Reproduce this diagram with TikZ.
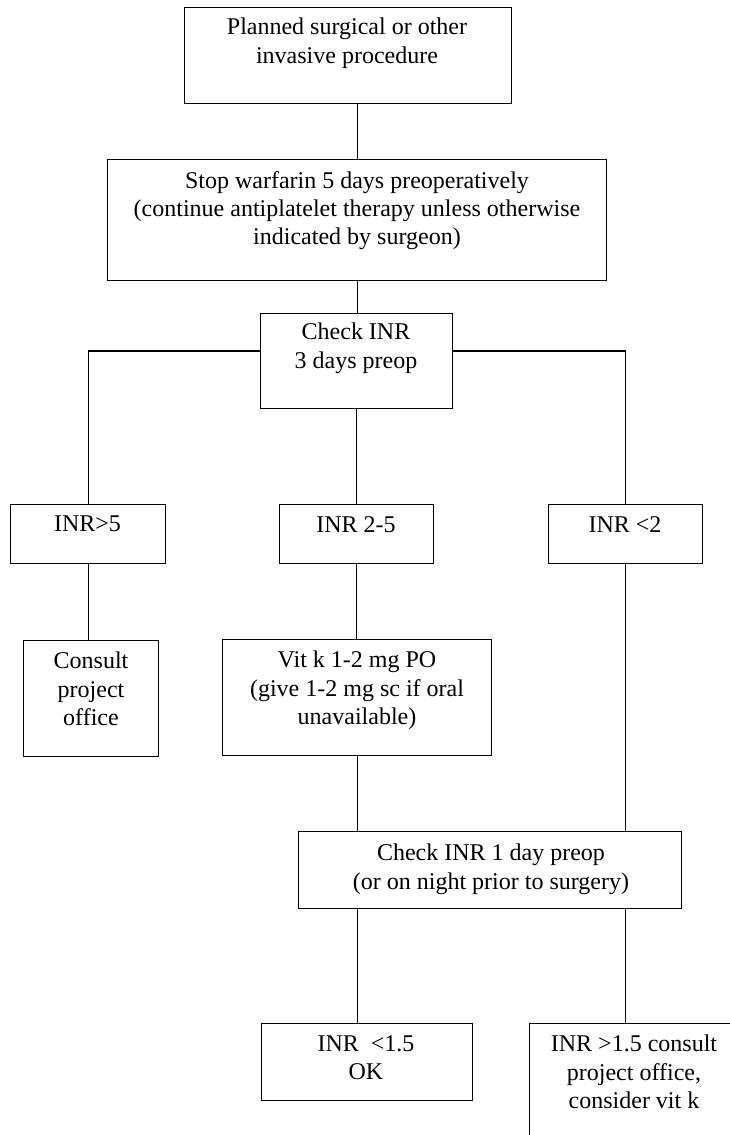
\documentclass[tikz,border=0pt]{standalone}
\usepackage{fontspec}
\setmainfont{Liberation Serif}
\begin{document}
\begin{tikzpicture}[x=1pt,y=-1pt,
  boxstyle/.style={draw=black,line width=1.2pt,inner sep=0pt,anchor=north west},
  txt/.style={anchor=north,inner sep=0pt,align=center,font=\fontsize{24}{28.2}\selectfont},
  conn/.style={draw=black,line width=1.1pt}]
\useasboundingbox (0,0) rectangle (730,1135);
\clip (0,0) rectangle (730,1135);
% boxes
\node[boxstyle,minimum width=327pt,minimum height=96pt] (b1) at (184,7) {};
\node[boxstyle,minimum width=499pt,minimum height=121pt] (b2) at (107,159) {};
\node[boxstyle,minimum width=192pt,minimum height=95pt] (b3) at (260,313) {};
\node[boxstyle,minimum width=155pt,minimum height=59pt] (r1) at (10,504) {};
\node[boxstyle,minimum width=154pt,minimum height=59pt] (r2) at (279,504) {};
\node[boxstyle,minimum width=154pt,minimum height=59pt] (r3) at (548,504) {};
\node[boxstyle,minimum width=135pt,minimum height=116pt] (c1) at (23,640) {};
\node[boxstyle,minimum width=269pt,minimum height=116pt] (vk) at (222,639) {};
\node[boxstyle,minimum width=383pt,minimum height=77pt] (ck) at (298,831) {};
\node[boxstyle,minimum width=211pt,minimum height=77pt] (ok) at (261,1023) {};
\node[boxstyle,minimum width=220pt,minimum height=130pt] (hi) at (529,1023) {};
% texts
\node[txt] (t1) at (347,18) {Planned surgical or other\\invasive procedure};
\node[txt] (t2) at (357,171) {Stop warfarin 5 days preoperatively\\(continue antiplatelet therapy unless otherwise\\indicated by surgeon)};
\node[txt] (t3) at (356,323) {Check INR\\3 days preop};
\node[txt] (tr1) at (87.5,516) {INR>5};
\node[txt] (tr2) at (356,516) {INR 2-5};
\node[txt] (tr3) at (625,516) {INR <2};
\node[txt] (tc1) at (91,652) {Consult\\project\\office};
\node[txt] (tvk) at (357,651) {Vit k 1-2 mg PO\\(give 1-2 mg sc if oral\\unavailable)};
\node[txt] (tck) at (491,844) {Check INR 1 day preop\\(or on night prior to surgery)};
\node[txt] (tok) at (366,1035) {INR\ \ <1.5\\OK};
\node[txt] (thi) at (634,1035) {INR >1.5 consult\\project office,\\consider vit k};
% connectors
\coordinate (hl) at (0,351);
\draw[conn] (b1.south -| b2.north) -- (b2.north);
\draw[conn] (b2.south) -- (b2.south |- b3.north);
\draw[conn] (b3.west |- hl) -| (r1.north);
\draw[conn] (b3.east |- hl) -| (r3.north);
\draw[conn] (b3.south) -- (b3.south |- r2.north);
\draw[conn] (r1.south) -- (r1.south |- c1.north);
\draw[conn] (r2.south) -- (r2.south |- vk.north);
\draw[conn] (r3.south) -- (r3.south |- ck.north);
\draw[conn] (vk.south) -- (vk.south |- ck.north);
\draw[conn] (vk.south |- ck.south) -- (vk.south |- ok.north);
\draw[conn] (r3.south |- ck.south) -- (r3.south |- hi.north);
\end{tikzpicture}
\end{document}
